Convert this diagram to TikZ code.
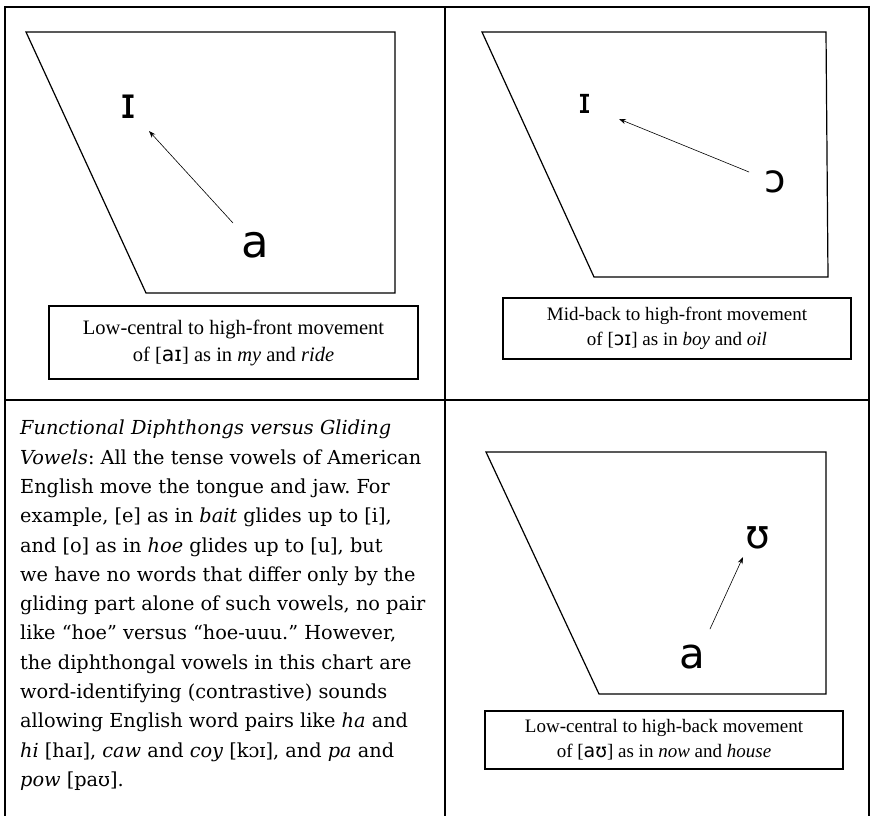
\documentclass[tikz,border=0pt]{standalone}
\usepackage{fontspec}
\usepackage{tikz}
\usetikzlibrary{arrows.meta, calc}
\setmainfont{Liberation Serif}
\newfontfamily\bodyfont{DejaVu Serif}
\newfontfamily\ipafont{DejaVu Sans}

\tikzset{
  frame/.style={line width=1.6pt},
  chart/.style={line width=1.2pt, line join=miter},
  glide/.style={line width=0.6pt, -{Stealth[length=7pt,width=5pt]}},
  caption/.style={draw, line width=1.1pt, align=center, inner sep=0pt},
  vowel/.style={inner sep=0pt, font=\ipafont\fontsize{#1}{#1}\selectfont}
}

\begin{document}
\frenchspacing
\begin{tikzpicture}[x=1pt,y=-1pt,line cap=round]
  \useasboundingbox (0,0) rectangle (870,816);

  % --- Cornice e divisori ---
  \draw[frame] (5,816) -- (5,7) -- (869,7) -- (869,816);
  \draw[frame] (445,7) -- (445,816);
  \draw[frame] (5,400) -- (869,400);

  % --- Pannello 1: [aI] ---
  \draw[chart] (26,32) -- (395,32) -- (395,293) -- (146,293) -- cycle;
  \node[vowel=43] (iOne) at (128,107) {ɪ};
  \node[vowel=45] (aOne) at (255,245) {a};
  \coordinate (aiTail) at (233,223);
  \coordinate (aiHead) at (149,131);
  \draw[glide] (aiTail) -- (aiHead);
  \node[caption, minimum width=369, minimum height=73,
        font=\fontsize{20.5}{27}\selectfont] (capOne) at (233.5,342.5)
    {Low-central to high-front movement\\
     of [{\ipafont aɪ}] as in \textit{my} and \textit{ride}};

  % --- Pannello 2: [OI] ---
  \draw[chart] (482,32) -- (826,32) -- (828,277) -- (594,277) -- cycle;
  \node[vowel=35] (iTwo) at (585,104) {ɪ};
  \node[vowel=39] (oTwo) at (775,182) {ɔ};
  \coordinate (oiTail) at (749,172);
  \coordinate (oiHead) at (619,119);
  \draw[glide] (oiTail) -- (oiHead);
  \node[caption, minimum width=348, minimum height=61,
        font=\fontsize{19}{25}\selectfont] (capTwo) at (677,328.5)
    {Mid-back to high-front movement\\
     of [{\ipafont ɔɪ}] as in \textit{boy} and \textit{oil}};

  % --- Pannello 3: testo ---
  \node[anchor=north west, inner sep=0pt, align=left,
        font=\bodyfont\fontsize{19.3}{29.3}\selectfont] (note) at (20,420)
    {\textit{Functional Diphthongs versus Gliding}\\
     \textit{Vowels}: All the tense vowels of American\\
     English move the tongue and jaw. For\\
     example, [e] as in \textit{bait} glides up to [i],\\
     and [o] as in \textit{hoe} glides up to [u], but\\
     we have no words that differ only by the\\
     gliding part alone of such vowels, no pair\\
     like “hoe” versus “hoe-uuu.” However,\\
     the diphthongal vowels in this chart are\\
     word-identifying (contrastive) sounds\\
     allowing English word pairs like \textit{ha} and\\
     \textit{hi} [haɪ], \textit{caw} and \textit{coy} [kɔɪ], and \textit{pa} and\\
     \textit{pow} [paʊ].};

  % --- Pannello 4: [aU] ---
  \draw[chart] (486,452) -- (826,452) -- (826,694) -- (599,694) -- cycle;
  \node[vowel=40] (uFour) at (758,538) {ʊ};
  \node[vowel=42] (aFour) at (692,657) {a};
  \coordinate (auTail) at (710,629);
  \coordinate (auHead) at (743,557);
  \draw[glide] (auTail) -- (auHead);
  \node[caption, minimum width=358, minimum height=58,
        font=\fontsize{19}{25}\selectfont] (capFour) at (664,740)
    {Low-central to high-back movement\\
     of [{\ipafont aʊ}] as in \textit{now} and \textit{house}};
\end{tikzpicture}
\end{document}
